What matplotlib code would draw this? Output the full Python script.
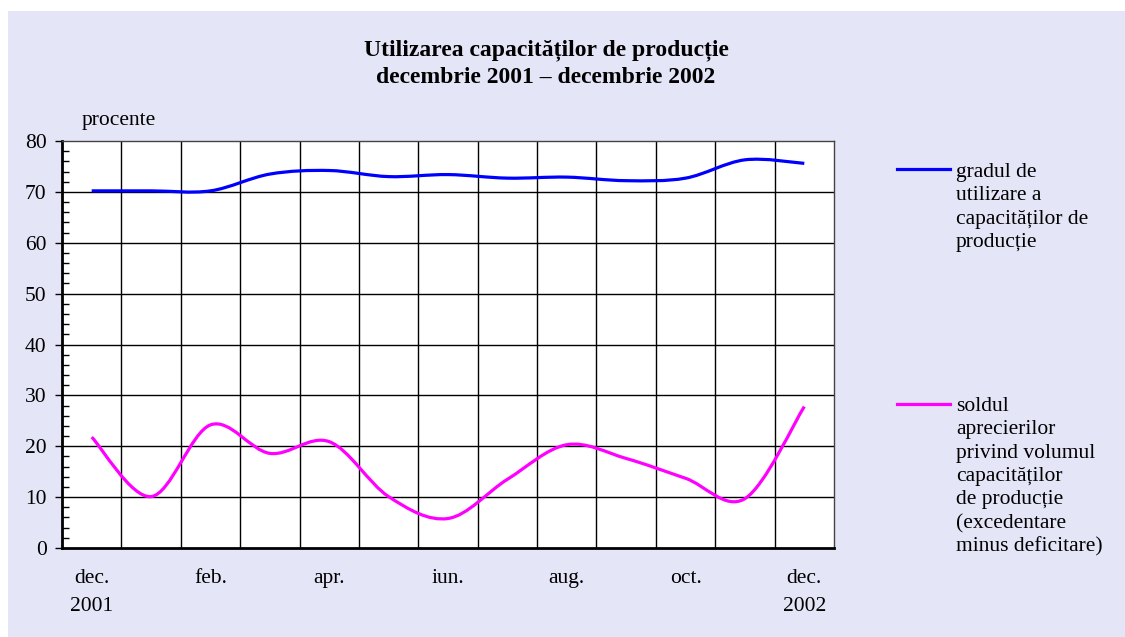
import numpy as np
import matplotlib
matplotlib.use("Agg")
import matplotlib.pyplot as plt
from matplotlib.path import Path
from matplotlib.patches import PathPatch, Rectangle
from matplotlib.lines import Line2D

plt.rcParams['font.family'] = ['Liberation Serif', 'DejaVu Serif']

# date: dec. 2001 ... dec. 2002 (lunar)
luni = ["dec.", "ian.", "feb.", "mar.", "apr.", "mai", "iun.",
        "iul.", "aug.", "sep.", "oct.", "nov.", "dec."]
etichete = ["dec.\n2001", "feb.", "apr.", "iun.", "aug.", "oct.", "dec.\n2002"]
grad_utilizare = [70.2, 70.2, 70.2, 73.5, 74.2, 73.0, 73.4,
                  72.7, 72.9, 72.2, 72.7, 76.3, 75.6]
sold_aprecieri = [21.8, 10.1, 24.2, 18.6, 20.9, 10.1, 5.8,
                  13.5, 20.3, 17.6, 13.7, 9.7, 27.8]

leg1 = "gradul de\nutilizare a\ncapacităților de\nproducție"
leg2 = ("soldul\naprecierilor\nprivind volumul\ncapacităților\n"
        "de producție\n(excedentare\nminus deficitare)")

FS = 15.5
W, H = 1125, 637
fig = plt.figure(figsize=(W / 100, H / 100), dpi=100, facecolor='white')

# fundal punctat (aproximat cu o culoare plina)
fig.add_artist(Rectangle((8 / W, 0), 1, 1 - 11 / H, transform=fig.transFigure,
                         facecolor='#e5e5f8', edgecolor='none', zorder=-10))


def curba_neteda(ax, x, y, color):
    # bezier ca la Excel (catmull-rom)
    pts = np.column_stack([x, y]).astype(float)
    p = np.vstack([pts[0], pts, pts[-1]])
    verts = [pts[0]]
    codes = [Path.MOVETO]
    for i in range(1, len(p) - 2):
        c1 = p[i] + (p[i + 1] - p[i - 1]) / 6
        c2 = p[i + 1] - (p[i + 2] - p[i]) / 6
        verts += [c1, c2, p[i + 1]]
        codes += [Path.CURVE4] * 3
    ax.add_patch(PathPatch(Path(verts, codes), facecolor='none',
                           edgecolor=color, lw=2.3, zorder=3))


ax = fig.add_axes([62 / W, 1 - 548 / H, 772 / W, 407 / H])
ax.set_facecolor('white')
x = np.arange(len(luni))
curba_neteda(ax, x, grad_utilizare, '#0000ff')
curba_neteda(ax, x, sold_aprecieri, '#ff00ff')

ax.set_xlim(-0.5, len(luni) - 0.5)
ax.set_ylim(0, 80)
ax.set_yticks(range(0, 81, 10))
ax.set_yticks(range(0, 81, 2), minor=True)
for v in np.arange(0.5, len(luni) - 1, 1):
    ax.axvline(v, color='black', lw=1, zorder=1)
for v in range(10, 80, 10):
    ax.axhline(v, color='black', lw=1, zorder=1)

ax.set_xticks(x[::2])
ax.set_xticklabels(etichete, fontsize=FS, linespacing=1.63, va='top')
ax.tick_params(axis='x', length=0, pad=15)
ax.tick_params(axis='y', which='major', direction='out', length=5,
               width=1, labelsize=FS, pad=6)
ax.tick_params(axis='y', which='minor', direction='in', length=5, width=1)

for s in ['left', 'bottom']:
    ax.spines[s].set_linewidth(2)
for s in ['top', 'right']:
    ax.spines[s].set_linewidth(1)
    ax.spines[s].set_color('#444444')

fig.text(546 / W, 1 - 64 / H,
         "Utilizarea capacităților de producție\ndecembrie 2001 – decembrie 2002",
         ha='center', va='center', fontsize=17, fontweight='bold', linespacing=1.38)
fig.text(82 / W, 1 - 120 / H, "procente", ha='left', va='center', fontsize=FS)

# legenda
fig.add_artist(Line2D([897 / W, 950 / W], [1 - 169 / H, 1 - 169 / H],
                      transform=fig.transFigure, color='#0000ff', lw=2.3))
fig.text(956 / W, 1 - 163 / H, leg1, ha='left', va='top', fontsize=FS,
         linespacing=1.31)
fig.add_artist(Line2D([897 / W, 950 / W], [1 - 404 / H, 1 - 404 / H],
                      transform=fig.transFigure, color='#ff00ff', lw=2.3))
fig.text(956 / W, 1 - 397 / H, leg2, ha='left', va='top', fontsize=FS,
         linespacing=1.31)

fig.savefig("out.png", dpi=100, facecolor=fig.get_facecolor())
